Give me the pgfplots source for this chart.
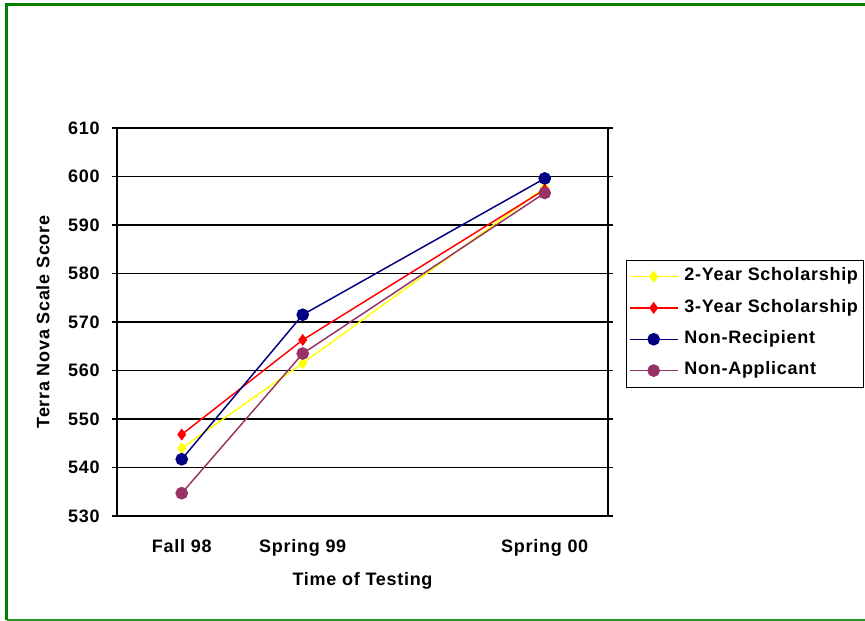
\documentclass[border=0pt]{standalone}
\usepackage{fontspec}
\setmainfont[LetterSpace=4]{Liberation Sans}
\usepackage{pgfplots}
\pgfplotsset{compat=1.18}
\definecolor{cyel}{RGB}{255,255,0}
\definecolor{cred}{RGB}{255,0,0}
\definecolor{cnavy}{RGB}{0,0,128}
\definecolor{cplum}{RGB}{153,51,102}
\definecolor{cframe}{RGB}{0,128,0}
\begin{document}
\begin{tikzpicture}
\useasboundingbox (0,0) rectangle (648.75pt,465.75pt);
\fill[white] (0,0) rectangle (648.75pt,465.75pt);
\draw[cframe, line width=2.25pt] (4.875pt,0.75pt) -- (4.875pt,462.375pt) -- (660pt,462.375pt);
\draw[cframe!85!white, line width=1.5pt] (4.875pt,0.75pt) -- (660pt,0.75pt);
\begin{axis}[
  at={(87.75pt,78.75pt)}, anchor=south west,
  scale only axis, width=368.25pt, height=291pt,
  xmin=-0.535, xmax=3.523, ymin=530, ymax=610,
  xtick={0,1,3}, xticklabels={Fall 98,Spring 99,Spring 00},
  ytick={530,540,...,610},
  ymajorgrids, grid style={black, line width=1.1pt},
  axis line style={black, line width=1.5pt},
  xtick style={draw=none},
  ytick style={black, line width=1.1pt},
  tick align=outside, major tick length=3.5pt,
  /pgf/number format/assume math mode=true,
  ticklabel style={font=\fontsize{13.5pt}{16pt}\selectfont\bfseries},
  xticklabel style={anchor=base, yshift=-24pt},
  yticklabel style={anchor=base east, xshift=-6pt, yshift=-4.8pt},
  label style={font=\fontsize{13.5pt}{16pt}\selectfont\bfseries},
  xlabel={Time of Testing},
  ylabel={Terra Nova Scale Score},
  xlabel style={at={(axis description cs:0.5,-0.168)}, anchor=center},
  ylabel style={at={(axis description cs:-0.1507,0.5)}, anchor=center},
  legend style={at={(rel axis cs:1.0367,0.6598)}, anchor=north west,
    draw=black, fill=white,
    font=\fontsize{13.5pt}{16pt}\selectfont\bfseries,
    inner xsep=2pt, inner ysep=4pt, row sep=7pt,
    /tikz/every odd column/.append style={column sep=2.5pt},
    nodes={inner sep=2pt, text height=9.5pt, text depth=3pt}},
  legend cell align=left,
  legend image code/.code={\draw[mark repeat=2,mark phase=2,line width=1.1pt,#1] plot coordinates {(0pt,0pt) (18pt,0pt) (36pt,0pt)};},
  every axis plot/.append style={line width=1.1pt},
]
\addplot[cyel, mark=diamond*, mark size=3.6pt, mark options={solid, fill=cyel, draw=cyel}] coordinates {(0,544.0) (1,561.5) (3,597.7)};
\addlegendentry{2-Year Scholarship}
\addplot[cred, mark=diamond*, mark size=3.6pt, mark options={solid, fill=cred, draw=cred}] coordinates {(0,546.8) (1,566.3) (3,597.3)};
\addlegendentry{3-Year Scholarship}
\addplot[cnavy, mark=*, mark size=4.2pt, mark options={solid, fill=cnavy, draw=cnavy}] coordinates {(0,541.7) (1,571.5) (3,599.6)};
\addlegendentry{Non-Recipient}
\addplot[cplum, mark=*, mark size=4.2pt, mark options={solid, fill=cplum, draw=cplum}] coordinates {(0,534.7) (1,563.5) (3,596.6)};
\addlegendentry{Non-Applicant}
\end{axis}
\end{tikzpicture}
\end{document}
